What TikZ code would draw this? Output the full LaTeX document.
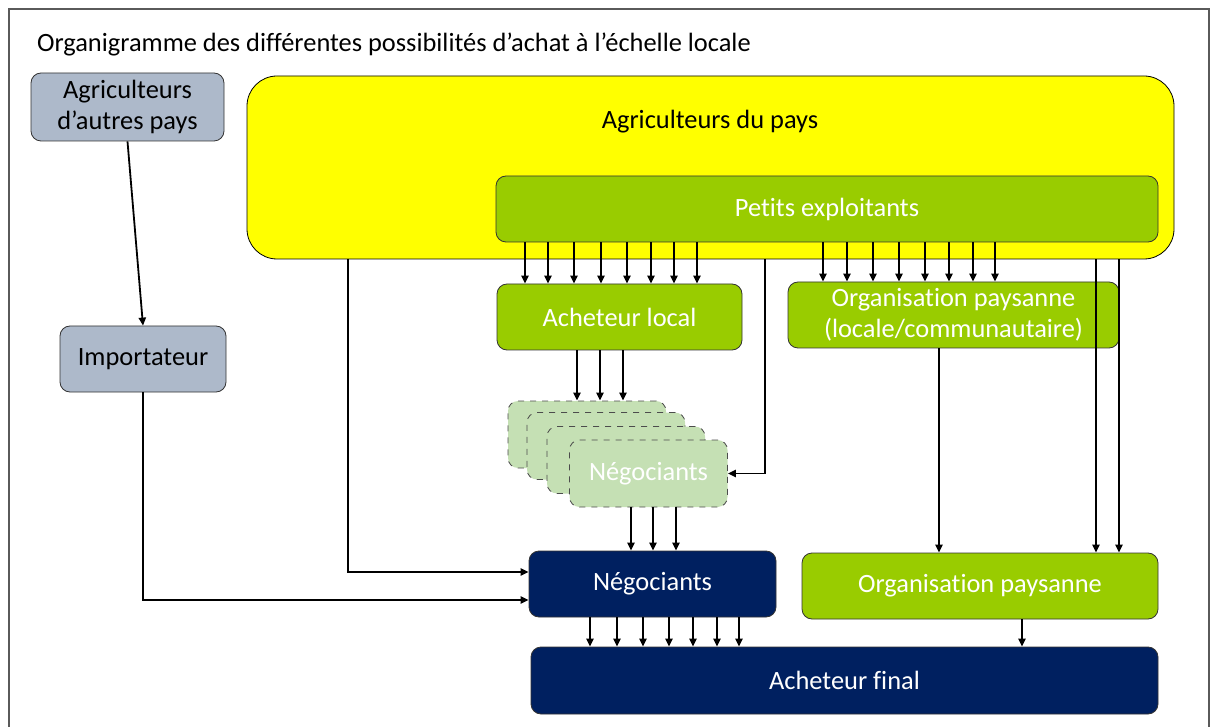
\documentclass[tikz,border=0pt]{standalone}
\usepackage{fontspec}
\setmainfont{Carlito}[Ligatures={NoCommon}]
\usepackage{tikz}
\usetikzlibrary{arrows.meta,positioning}
\definecolor{tkYellow}{RGB}{255,255,0}
\definecolor{tkGreen}{RGB}{153,204,0}
\definecolor{tkPale}{RGB}{197,224,180}
\definecolor{tkNavy}{RGB}{0,32,96}
\definecolor{tkGrey}{RGB}{173,185,202}
\definecolor{tkFrame}{RGB}{90,90,90}

\begin{document}
\begin{tikzpicture}[
  x=0.5pt, y=-0.5pt,
  font=\fontsize{13.2}{15.5}\selectfont,
  box/.style={draw=black!80, rounded corners=5pt, align=center, inner sep=2pt, minimum height=33pt},
  gbox/.style={box, fill=tkGreen, text=white},
  nbox/.style={box, fill=tkNavy, text=white},
  pbox/.style={box, dashed, draw=black!70, fill=tkPale, text=white, minimum width=79pt, minimum height=33.5pt},
  arr/.style={-{Triangle[length=4pt,width=3.6pt]}, line width=0.9pt},
]
\useasboundingbox (0,0) rectangle (1216,727);
% frame and title
\draw[tkFrame, line width=1pt] (9,727) -- (9,9) -- (1209,9) -- (1209,727);
\node[anchor=west] (titre) at (30,44) {Organigramme des différentes possibilités d’achat à l’échelle locale};
% farmers
\node[box, fill=tkGrey, minimum width=96.5pt, minimum height=34pt] (autres) at (127.5,107)
  {Agriculteurs\\d’autres pays};
\node[box, fill=tkYellow, draw=black, rounded corners=15pt, minimum width=463.5pt, minimum height=91.5pt] (pays) at (710.5,167.5) {};
\node (paystxt) at (710,122) {Agriculteurs du pays};
\node[gbox, minimum width=331pt] (petits) at (827,209) {Petits exploitants};
% intermediaries
\node[gbox, minimum width=122.5pt] (achloc) at (619.5,317) {Acheteur local};
\node[gbox, minimum width=165.5pt] (orgloc) at (953.5,315)
  {Organisation paysanne\\(locale/communautaire)};
\node[box, fill=tkGrey, minimum width=83pt] (import) at (143,359) {Importateur};
% traders (stack)
\node[pbox] (neg1) at (587,434.5) {};
\node[pbox] (neg2) at (606,446) {};
\node[pbox] (neg3) at (626,460) {};
\node[pbox] (neg4) at (648.5,473.5) {Négociants};
\node[nbox, minimum width=123.5pt] (negoc) at (652.5,584) {Négociants};
\node[gbox, minimum width=178pt] (orgpay) at (980,586) {Organisation paysanne};
\node[nbox, minimum width=313.5pt, minimum height=33.5pt] (final) at (844.5,680.5) {Acheteur final};
% arrows
\draw[arr] (autres.south) -- (import.north);
\draw[arr] (import.south) |- ([yshift=-8pt]negoc.west);
\draw[arr] (348,0 |- pays.south) |- ([yshift=6pt]negoc.west);
\draw[arr] (765,0 |- pays.south) |- (neg4.east);
\foreach \x in {525,548,574,601,627,651,674,697}
  \draw[arr] (\x,0 |- petits.south) -- (\x,0 |- achloc.north);
\foreach \x in {823,847,873,899,925,949,973,995}
  \draw[arr] (\x,0 |- petits.south) -- (\x,0 |- orgloc.north);
\foreach \x in {577,600,623}
  \draw[arr] (\x,0 |- achloc.south) -- (\x,0 |- neg1.north);
\foreach \x in {631,653,676}
  \draw[arr] (\x,0 |- neg4.south) -- (\x,0 |- negoc.north);
\draw[arr] (939,0 |- orgloc.south) -- (939,0 |- orgpay.north);
\foreach \x in {1096,1119}
  \draw[arr] (\x,0 |- pays.south) -- (\x,0 |- orgpay.north);
\foreach \x in {590,617,643,669,693,717,739}
  \draw[arr] (\x,0 |- negoc.south) -- (\x,0 |- final.north);
\draw[arr] (1022,0 |- orgpay.south) -- (1022,0 |- final.north);
\end{tikzpicture}
\end{document}
